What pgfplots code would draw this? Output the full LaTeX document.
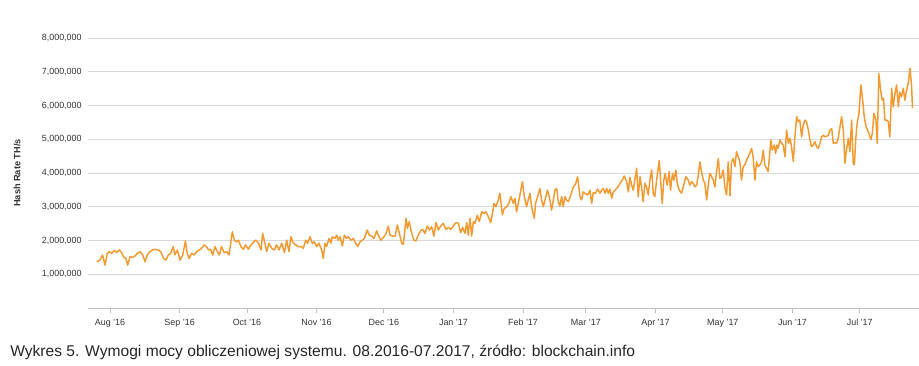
\documentclass[border=0pt]{standalone}
\usepackage{pgfplots}
\pgfplotsset{compat=1.18}
\usepackage{fontspec}
\setmainfont{Liberation Sans}
\definecolor{hashorange}{RGB}{242,153,48}
\definecolor{gridgray}{RGB}{216,216,216}
\definecolor{axisgray}{RGB}{190,190,190}
\definecolor{labelgray}{RGB}{50,50,50}
\begin{document}
\begin{tikzpicture}
\path[use as bounding box] (0,0) rectangle (689.25pt,273.75pt);
\begin{axis}[
  at={(66pt,42.75pt)}, anchor=south west,
  width=623.25pt, height=202.5pt, scale only axis,
  xmin=-9.8, xmax=360.4, ymin=0, ymax=8,
  axis x line*=bottom, axis y line*=left,
  x axis line style={draw=axisgray, line width=0.75pt},
  y axis line style={draw=none},
  ytick={1,2,3,4,5,6,7,8},
  yticklabels={{1,000,000},{2,000,000},{3,000,000},{4,000,000},{5,000,000},{6,000,000},{7,000,000},{8,000,000}},
  ytick style={draw=none},
  xtick={0,31,61,92,122,153,184,212,243,273,304,334},
  xticklabels={Aug '16,Sep '16,Oct '16,Nov '16,Dec '16,Jan '17,Feb '17,Mar '17,Apr '17,May '17,Jun '17,Jul '17},
  xtick style={draw=axisgray, line width=0.6pt},
  tick align=outside, major tick length=3.75pt,
  ymajorgrids, grid style={draw=gridgray, line width=0.75pt},
  tick label style={font=\fontsize{6.7}{8}\selectfont, text=labelgray},
  yticklabel style={xshift=2.5pt},
  xticklabel style={yshift=-1pt},
  ylabel={Hash Rate TH/s},
  ylabel style={at={(axis description cs:-0.0854,0.5)}, anchor=center, font=\fontsize{6.9}{8}\selectfont\bfseries, text=labelgray},
  clip=false,
]
\addplot[hashorange, line width=1.1pt, line join=round] coordinates {
(-5.9,1.37) (-4.5,1.42) (-3.3,1.57) (-2.2,1.27) (-1.2,1.62) (-0.3,1.67) (0.75,1.62) (1.8,1.70) (3.0,1.65) (4.2,1.72)
(5.2,1.64) (6.0,1.52) (7.1,1.47) (7.9,1.27) (8.9,1.52) (10.1,1.50) (11.1,1.54) (12.2,1.62) (13.4,1.67) (14.6,1.57)
(15.6,1.37) (16.6,1.57) (17.8,1.67) (19.0,1.72) (20.0,1.74) (21.5,1.72) (22.6,1.67) (23.8,1.47) (24.9,1.42) (26.0,1.57)
(27.0,1.62) (28.2,1.82) (28.9,1.57) (30.0,1.72) (31.2,1.42) (32.4,1.57) (33.6,1.99) (34.4,1.62) (35.2,1.47) (36.4,1.62)
(37.4,1.57) (38.6,1.67) (39.8,1.72) (40.8,1.77) (41.9,1.87) (43.0,1.82) (43.9,1.72) (44.8,1.74) (45.7,1.57) (46.8,1.82)
(47.8,1.67) (48.7,1.57) (49.7,1.82) (50.8,1.64)
(52.0,1.67) (53.0,1.57) (54.5,2.26) (55.4,2.01) (56.4,1.96) (57.2,2.01) (58.3,1.82) (59.4,1.74) (60.4,1.87) (61.6,1.74)
(62.8,1.87) (63.8,1.94) (64.9,2.01) (66.1,1.92) (67.3,1.72) (68.0,2.21) (68.7,2.01) (69.8,1.67) (70.8,1.92) (72.0,1.77)
(73.2,1.72) (74.2,1.87) (75.3,1.72) (76.5,1.92) (77.7,1.64) (78.7,2.01) (79.7,1.67) (80.6,2.11) (81.7,1.92) (82.7,1.87)
(83.9,1.82) (85.1,1.82) (86.1,1.77) (87.2,2.01) (88.0,1.92) (89.1,2.11) (90.1,1.92) (91.0,1.96) (92.1,1.82) (93.1,1.92)
(94.3,1.72) (95.0,1.47) (95.8,1.92) (96.5,1.82) (97.6,2.06) (98.4,1.92) (99.0,2.11) (100.2,2.06) (101.0,2.16) (101.7,2.01)
(102.5,2.11) (103.5,1.84) (104.4,2.16) (105.4,2.06) (106.2,2.11) (107.4,2.01) (108.4,2.06) (109.4,1.92) (110.3,1.82) (111.4,1.96)
(112.4,2.01) (113.3,2.06)
(113.6,2.11) (114.6,2.31) (115.5,2.16) (116.6,2.13) (117.6,2.06) (118.8,2.29) (119.5,2.16) (120.6,2.01) (121.8,2.09) (123.0,2.21)
(124.0,2.43) (124.7,2.16) (125.9,2.13) (127.0,2.13) (128.0,2.46) (128.9,2.21) (130.0,1.91) (130.7,1.89) (131.9,2.66) (132.5,2.36)
(133.3,2.56) (134.4,2.21) (135.4,2.01) (136.3,1.99) (137.3,2.16) (138.4,2.29) (139.3,2.33) (140.3,2.21) (141.4,2.43) (142.3,2.31)
(143.3,2.41) (144.3,2.13) (145.2,2.53) (146.3,2.31) (147.3,2.43) (148.5,2.51) (149.7,2.33) (150.7,2.39) (151.8,2.33) (152.9,2.43)
(154.1,2.53) (155.2,2.51) (156.2,2.23) (157.1,2.39) (158.1,2.21) (158.9,2.53) (159.6,2.16) (160.4,2.66) (161.1,2.13) (161.9,2.56)
(162.6,2.51) (163.6,2.75) (164.5,2.56) (165.6,2.85) (166.6,2.80) (167.5,2.85) (168.5,2.71) (169.6,2.53) (170.5,2.85) (171.1,3.10)
(171.9,3.00) (173.0,3.20) (173.7,3.40)
(174.2,3.10) (174.8,2.76) (175.6,2.95) (176.7,3.00) (177.7,3.10) (178.6,3.30) (179.7,3.10) (180.4,3.25) (181.1,2.85) (182.2,3.20)
(183.7,3.74) (184.6,3.30) (185.6,3.00) (186.3,3.20) (187.1,3.40) (187.8,3.00) (189.0,2.66) (189.6,3.10) (190.5,3.30) (191.5,3.54)
(192.3,3.20) (193.0,3.00) (193.8,3.20) (194.9,3.49) (196.0,3.20) (196.7,2.90) (197.5,3.20) (198.2,3.49) (199.0,3.54) (199.7,3.15)
(200.4,3.02) (201.2,3.30) (201.9,3.00) (202.7,3.30) (203.4,3.20) (204.2,3.15) (205.3,3.35) (206.4,3.59) (207.4,3.67) (208.3,3.89)
(209.4,3.30) (210.1,3.20) (210.8,3.44) (211.6,3.40) (212.8,3.35) (213.8,3.49) (214.6,3.10) (215.3,3.42) (216.3,3.40) (217.2,3.52)
(218.3,3.40) (219.0,3.49) (219.8,3.54) (220.5,3.40) (221.2,3.54) (222.0,3.40) (222.7,3.52) (223.5,3.25) (224.2,3.44) (224.9,3.49)
(226.1,3.57) (227.2,3.69) (228.2,3.79) (229.1,3.91) (230.2,3.74) (230.9,3.44) (231.6,3.87) (232.4,3.64) (233.1,3.49)
(233.8,3.79) (234.6,4.14) (235.3,3.30) (236.1,3.89) (236.8,3.59) (237.5,3.15) (238.3,3.69) (239.0,3.59) (239.8,3.35) (240.5,3.79)
(241.3,4.09) (242.0,3.40) (242.7,3.30) (243.5,3.79) (244.7,4.37) (245.4,3.69) (246.0,3.10) (246.7,3.79) (247.3,3.99) (248.2,3.64)
(249.1,4.04) (249.7,3.49) (250.6,3.99) (251.2,3.79) (252.1,4.09) (252.7,3.69) (253.6,3.49) (254.6,3.40) (255.4,3.59) (256.5,3.89)
(257.6,3.79) (258.3,3.64) (259.1,3.74) (259.8,3.69) (260.6,3.59) (261.3,3.64) (262.0,3.89) (262.8,4.33) (263.5,4.04) (264.3,3.79)
(265.0,3.69) (265.8,3.20) (266.5,3.64) (267.2,3.99) (268.0,3.89) (268.7,3.79) (269.5,3.59) (270.2,4.04) (271.0,4.43) (271.7,3.84)
(272.4,3.89) (273.2,4.09) (273.9,3.59) (274.7,3.35) (275.4,4.33) (276.2,3.32) (276.9,4.33) (277.6,4.43) (278.4,4.19) (279.1,4.63)
(279.9,4.48) (280.6,4.33) (281.3,3.79) (282.1,4.19) (282.8,4.24) (283.6,4.38) (284.3,4.48) (285.1,4.60) (285.8,4.73) (286.5,4.48)
(287.3,3.79) (288.0,4.33) (288.8,4.19) (289.5,4.24) (290.3,4.33) (291.0,4.68) (291.7,4.24)
(292.5,4.14) (293.2,4.04) (294.4,4.98) (295.0,4.68) (295.9,4.83) (296.5,4.58) (297.1,4.83) (297.7,4.73) (298.4,4.98) (299.2,4.88)
(299.9,4.83) (300.7,4.48) (301.4,5.27) (302.2,4.88) (302.9,5.03) (303.6,4.78) (304.4,4.34) (305.1,5.07) (305.9,5.67) (306.6,5.52)
(307.3,5.57) (308.1,5.07) (308.8,5.42) (309.6,5.57) (310.3,5.52) (311.1,5.27) (311.8,4.98) (312.5,4.78) (313.3,4.83) (314.0,4.93)
(314.8,4.78) (315.5,4.73) (316.3,4.88) (317.0,5.07) (317.7,5.12) (318.5,5.07) (319.2,5.09) (320.0,5.12) (320.7,5.27) (321.5,5.32)
(322.2,4.88) (322.9,4.90) (323.7,4.88) (324.4,5.03) (325.2,5.37) (325.9,5.67) (326.7,5.27) (327.4,4.29) (328.1,4.68) (328.9,5.03)
(329.6,4.63) (330.4,5.57) (331.1,4.29) (331.6,4.24) (332.2,4.98) (332.8,5.47) (333.6,5.72) (334.5,6.61) (335.3,6.16) (336.0,5.67)
(336.8,5.37) (337.5,5.27) (338.1,5.17) (339.0,4.99) (339.6,5.17) (340.3,5.77) (341.2,5.57) (341.8,4.88) (342.5,6.95) (343.3,6.46)
(344.0,6.16) (344.6,6.21) (345.2,5.57) (346.0,5.57) (346.7,5.52) (347.4,5.07) (348.2,6.51) (348.9,5.96) (349.7,6.36) (350.4,6.61)
(351.2,5.96) (351.8,6.40) (352.6,6.26) (353.4,6.51) (354.1,6.16) (354.9,6.46) (355.6,6.66) (356.4,7.10) (357.1,6.56) (357.5,5.92)
};
\end{axis}
\node[anchor=base west, inner sep=0pt, font=\fontsize{11.7}{14}\selectfont, text=black!85] at (7.5pt,6.75pt)
  {Wykres 5. Wymogi mocy obliczeniowej systemu. 08.2016-07.2017, źródło: blockchain.info};
\end{tikzpicture}
\end{document}
